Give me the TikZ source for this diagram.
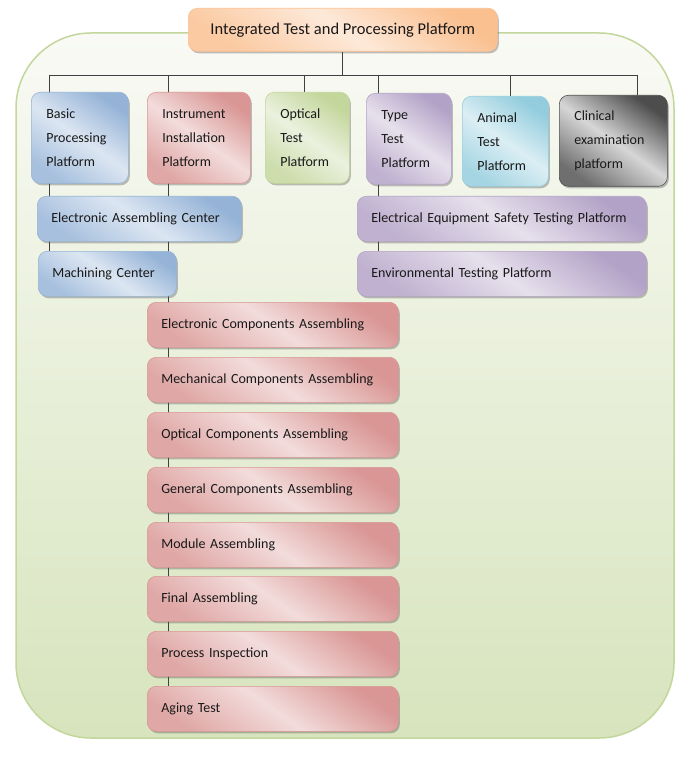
\documentclass[tikz,border=0pt]{standalone}
\usepackage{fontspec}
\setmainfont{Carlito}
\usetikzlibrary{shadows,backgrounds}

\definecolor{bluedark}{HTML}{95B3D7}
\definecolor{bluelight}{HTML}{DCE6F2}
\definecolor{reddark}{HTML}{D99694}
\definecolor{redlight}{HTML}{F2DCDB}
\definecolor{greendark}{HTML}{C3D69B}
\definecolor{greenlight}{HTML}{EBF1DE}
\definecolor{violetdark}{HTML}{B3A2C7}
\definecolor{violetlight}{HTML}{E6E0EC}
\definecolor{aquadark}{HTML}{93CDDD}
\definecolor{aqualight}{HTML}{DBEEF4}
\definecolor{greydark}{HTML}{4D4D4D}
\definecolor{greylight}{HTML}{D6D6D6}
\definecolor{orangedark}{HTML}{FAC090}
\definecolor{orangelight}{HTML}{FDE9D9}
\definecolor{panellight}{HTML}{F9FAF5}
\definecolor{paneldark}{HTML}{D7E4BD}
\definecolor{panelline}{HTML}{C3D69B}

\tikzset{
  shade/.style={draw=#1dark, top color=#1dark, bottom color=#1dark!75!#1light,
    middle color=#1light, shading angle=-35},
  box/.style={shade=#1, rounded corners=9pt, anchor=north west, align=left,
    text=black!90, line width=0.6pt,
    drop shadow={shadow xshift=1.5pt, shadow yshift=-2pt, opacity=0.35, fill=black!70}},
  platform/.style={box=#1, inner xsep=15pt, minimum height=91pt,
    font=\fontsize{14}{24}\selectfont},
  unit/.style={box=#1, inner xsep=14pt, minimum height=45pt,
    font=\fontsize{14}{17}\selectfont},
  link/.style={draw=black!75, line width=0.8pt},
  panel/.style={draw=panelline, line width=1.5pt, rounded corners=75pt,
    top color=panellight, bottom color=paneldark}
}

\begin{document}
\begin{tikzpicture}[x=1pt,y=-1pt]
 \useasboundingbox (0,0) rectangle (692,759);
 \begin{scope}[on background layer]
  \draw[panel] (16,33) rectangle (674,738);
 \end{scope}

 % head of the tree
 \node[box=orange, anchor=north west, align=center, minimum width=309pt, minimum height=43pt,
   font=\fontsize{16.5}{20}\selectfont] (title) at (188,8) {Integrated Test and Processing Platform};

 % first row
 \node[platform=blue, text width=67pt] (basic) at (31,92) {Basic\\Processing\\Platform};
 \node[platform=red, text width=73pt] (instr) at (147,92) {Instrument\\Installation\\Platform};
 \node[platform=green, text width=54pt] (optical) at (265,92) {Optical\\Test\\Platform};
 \node[platform=violet, text width=55pt] (type) at (366,93) {Type\\Test\\Platform};
 \node[platform=aqua, text width=56pt, minimum height=90pt] (animal) at (462,96) {Animal\\Test\\Platform};
 \node[platform=grey, text width=78pt] (clinical) at (559,95) {Clinical\\examination\\platform};

 % centres
 \node[unit=blue, text width=176pt] (eac) at (37,196) {Electronic Assembling Center};
 \node[unit=blue, text width=110pt] (mach) at (38,251) {Machining Center};
 \node[unit=violet, text width=261pt] (safety) at (357,196) {Electrical Equipment Safety Testing Platform};
 \node[unit=violet, text width=261pt] (envtest) at (357,251) {Environmental Testing Platform};

 % assembling line
 \node[unit=red, text width=223pt] (ecomp) at (147,302) {Electronic Components Assembling};
 \node[unit=red, text width=223pt] (mcomp) at (147,357) {Mechanical Components Assembling};
 \node[unit=red, text width=223pt] (ocomp) at (147,412) {Optical Components Assembling};
 \node[unit=red, text width=223pt] (gcomp) at (147,467) {General Components Assembling};
 \node[unit=red, text width=223pt] (module) at (147,522) {Module Assembling};
 \node[unit=red, text width=223pt] (final) at (147,576) {Final Assembling};
 \node[unit=red, text width=223pt] (inspect) at (147,631) {Process Inspection};
 \node[unit=red, text width=223pt] (aging) at (147,686) {Aging Test};

 \coordinate (bus1) at (49,75);
 \coordinate (bus2) at (168,75);
 \coordinate (bus3) at (304,75);
 \coordinate (bus4) at (378,75);
 \coordinate (bus5) at (510,75);
 \coordinate (bus6) at (637,75);

 \begin{scope}[on background layer]
  \draw[link] (title.south) -- (title.south |- bus1);
  \draw[link] (bus1) -- (bus6);
  \draw[link] (bus1) -- (bus1 |- mach.north);
  \draw[link] (bus2) -- (bus2 |- aging.north);
  \draw[link] (bus3) -- (bus3 |- optical.north);
  \draw[link] (bus4) -- (bus4 |- envtest.north);
  \draw[link] (bus5) -- (bus5 |- animal.north);
  \draw[link] (bus6) -- (bus6 |- clinical.north);
 \end{scope}
\end{tikzpicture}
\end{document}
